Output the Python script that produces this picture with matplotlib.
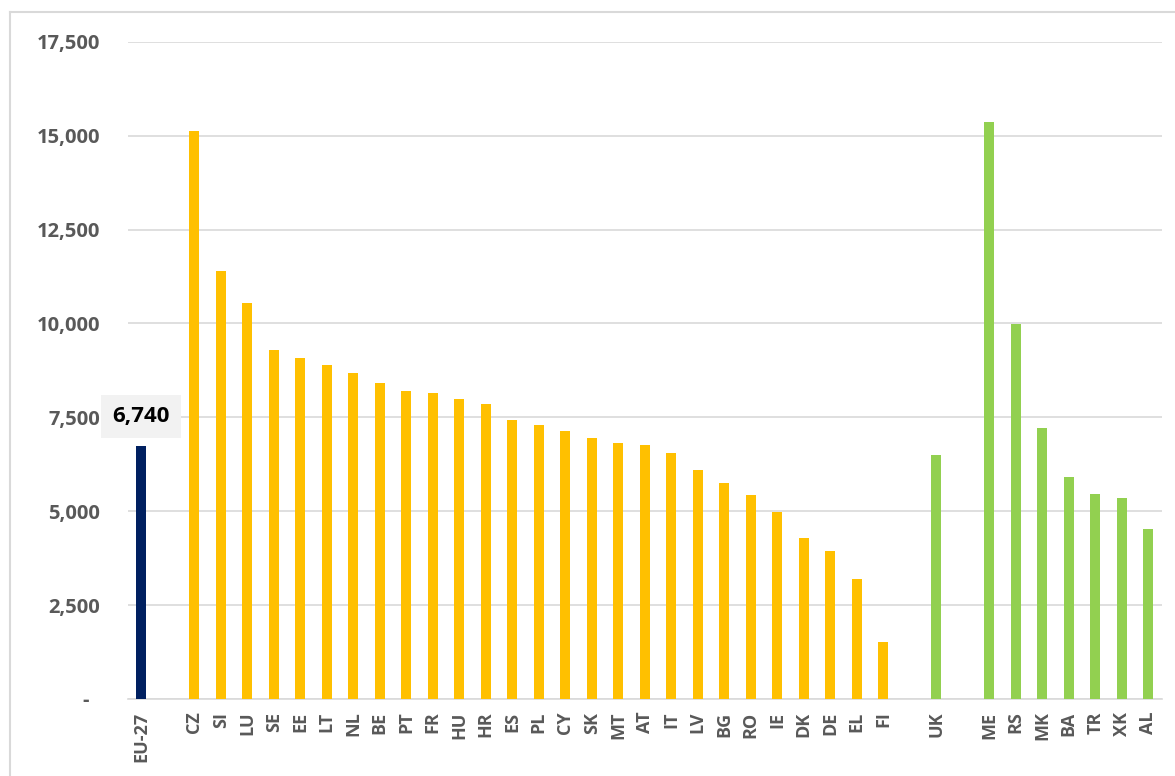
import matplotlib
matplotlib.use("Agg")
import matplotlib.pyplot as plt
from matplotlib.lines import Line2D

plt.rcParams['font.family'] = ['Open Sans', 'DejaVu Sans']

# Categories in display order; empty strings are spacer slots between groups
categories = ["EU-27", "",
              "CZ", "SI", "LU", "SE", "EE", "LT", "NL", "BE", "PT", "FR", "HU", "HR",
              "ES", "PL", "CY", "SK", "MT", "AT", "IT", "LV", "BG", "RO", "IE", "DK",
              "DE", "EL", "FI", "",
              "UK", "",
              "ME", "RS", "MK", "BA", "TR", "XK", "AL"]

eu_average = [6740]
member_states = [15120, 11400, 10550, 9290, 9090, 8880, 8680, 8400, 8200, 8150,
                 8000, 7850, 7440, 7300, 7130, 6960, 6820, 6760, 6550, 6110,
                 5740, 5420, 4980, 4280, 3940, 3200, 1520]
united_kingdom = [6490]
candidates = [15370, 9980, 7210, 5920, 5470, 5340, 4520]

NAVY = "#002060"
YELLOW = "#FFC000"
GREEN = "#92D050"
GRID = "#D9D9D9"
LABEL = "#595959"

fig = plt.figure(figsize=(11.75, 7.76), dpi=100)
W, H = 1175, 776
ax = fig.add_axes([128 / W, 1 - 699 / H, (1161.5 - 128) / W, (699 - 41.7) / H])

# Assemble slot positions for each group
pos = {c: i for i, c in enumerate(categories) if c}
ms_names = categories[2:29]
cand_names = categories[32:]

bw = 0.37
ax.bar([pos["EU-27"]], eu_average, width=bw, color=NAVY, zorder=3)
ax.bar([pos[c] for c in ms_names], member_states, width=bw, color=YELLOW, zorder=3)
ax.bar([pos["UK"]], united_kingdom, width=bw, color=GREEN, zorder=3)
ax.bar([pos[c] for c in cand_names], candidates, width=bw, color=GREEN, zorder=3)

ax.set_xlim(-0.5, len(categories) - 0.5)
ax.set_ylim(0, 17500)

yticks = [0, 2500, 5000, 7500, 10000, 12500, 15000, 17500]
ylabels = ["-  " if v == 0 else f"{v:,}" for v in yticks]
ax.set_yticks(yticks)
ax.set_yticklabels(ylabels)
ax.set_xticks(range(len(categories)))
ax.set_xticklabels(categories, rotation=90)

ax.tick_params(axis='y', length=0, pad=20, labelsize=14.5, labelcolor=LABEL)
ax.tick_params(axis='x', length=0, pad=9, labelsize=13, labelcolor=LABEL)
for lbl in ax.get_yticklabels() + ax.get_xticklabels():
    lbl.set_fontweight('bold')

ax.grid(axis='y', color=GRID, linewidth=1.2, zorder=0)
ax.grid(axis='x', visible=False)
for side in ("top", "right", "left"):
    ax.spines[side].set_visible(False)
ax.spines["bottom"].set_color(GRID)
ax.spines["bottom"].set_linewidth(1.2)

# Value label for the EU-27 average
ax.annotate(f"{eu_average[0]:,}", xy=(pos["EU-27"], eu_average[0]),
            xytext=(0, 21), textcoords="offset points",
            ha="center", va="center", fontsize=16, fontweight="bold", color="black",
            bbox=dict(boxstyle="square,pad=0.5", facecolor="#F2F2F2", edgecolor="none"),
            zorder=4)

# Chart-area frame (top and left edges)
fig.add_artist(Line2D([10 / W, 1.0], [1 - 12 / H, 1 - 12 / H],
                      color=GRID, linewidth=1.5, transform=fig.transFigure))
fig.add_artist(Line2D([10 / W, 10 / W], [0.0, 1 - 12 / H],
                      color=GRID, linewidth=1.5, transform=fig.transFigure))

fig.savefig("out.png", dpi=100, facecolor="white")
